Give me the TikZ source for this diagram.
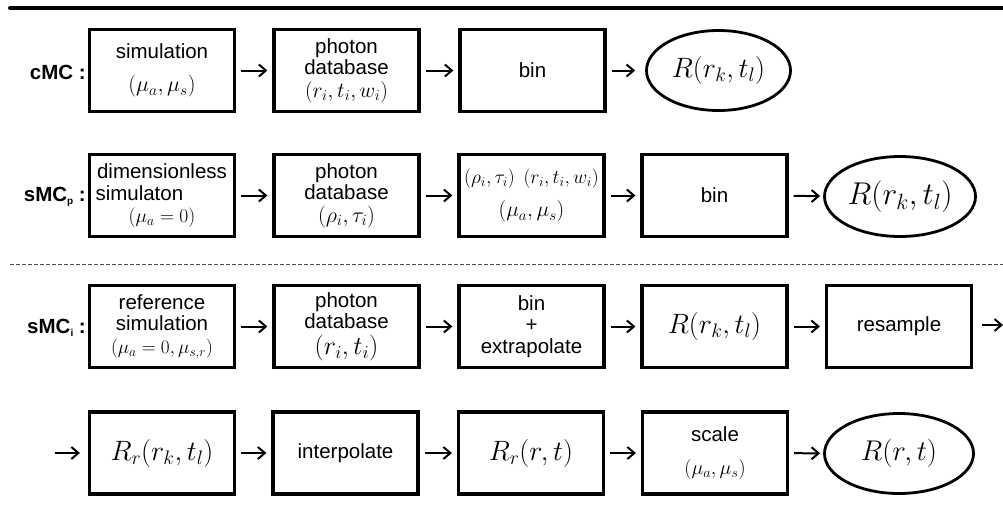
\RequirePackage{fix-cm}
\documentclass[tikz,border=0pt]{standalone}
\usepackage[no-math]{fontspec}
\setmainfont{Liberation Sans}
\usetikzlibrary{shapes.geometric,arrows.meta}
\newcommand{\mth}[2]{{\fontsize{#1}{#1}\selectfont$#2$}}
\tikzset{
 box/.style={draw, line width=3.2pt, minimum width=145pt, minimum height=82pt, inner sep=1pt, align=center, font=\fontsize{20.5}{21.5}\selectfont},
 oval/.style={draw, ellipse, line width=2.8pt, inner sep=0pt, minimum height=80pt},
 flow/.style={line width=2pt, -{Straight Barb[length=7pt,width=12pt]}, shorten <=5pt, shorten >=5pt},
 tag/.style={anchor=east, font=\bfseries\fontsize{20.5}{20.5}\selectfont, inner sep=0pt},
 rule/.style={line width=4pt, line cap=round},
 sep/.style={line width=0.8pt, dash pattern=on 4pt off 2pt, black!70}
}
\begin{document}
\begin{tikzpicture}[x=1pt,y=-1pt]
\useasboundingbox (0,0) rectangle (1003,515);
\coordinate (ruleL) at (10,8);
\coordinate (ruleR) at (1003,8);
\draw[rule] (ruleL) -- (ruleR);
\coordinate (sepL) at (10,264);
\coordinate (sepR) at (1003,264);
\draw[sep] (sepL) -- (sepR);

% row 1
\node[tag] (t1) at (86,72) {cMC :};
\node[box] (c1) at (162,70.5) {simulation\\[12pt]\mth{22}{(\mu_a,\mu_s)}};
\node[box] (c2) at (346.5,70.5) {photon\\database\\[1pt]\mth{21.5}{(r_i,t_i,w_i)}};
\node[box] (c3) at (532.5,70.5) {bin};
\node[oval, minimum width=144pt] (c4) at (718.5,70.5) {\mth{28}{R(r_k,t_l)}};
\draw[flow] (c1) -- (c2);
\draw[flow] (c2) -- (c3);
\draw[flow, shorten >=10pt] (c3) -- (c4);

% row 2
\node[tag] (t2) at (86,197) {sMC{\fontsize{10}{10}\selectfont\raisebox{-3pt}{p}} :};
\node[box] (p1) at (162,195.5) {dimensionless\\\makebox[133pt][l]{simulaton}\\[1pt]\mth{19.5}{(\mu_a=0)}};
\node[box] (p2) at (346.5,195.5) {photon\\database\\[1pt]\mth{22}{(\rho_i,\tau_i)}};
\node[box] (p3) at (531.5,195.5) {\mth{19.5}{(\rho_i,\tau_i)\;\,(r_i,t_i,w_i)}\\[12pt]\mth{21.5}{(\mu_a,\mu_s)}};
\node[box] (p4) at (714.5,195.5) {bin};
\node[oval, minimum width=151pt] (p5) at (900,196.5) {\mth{31.5}{R(r_k,t_l)}};
\draw[flow] (p1) -- (p2);
\draw[flow] (p2) -- (p3);
\draw[flow] (p3) -- (p4);
\draw[flow, shorten >=3pt] (p4) -- (p5);

% row 3
\node[tag] (t3) at (86,328) {sMC{\fontsize{10}{10}\selectfont\raisebox{-3pt}{i}} :};
\node[box] (i1) at (162,326.5) {reference\\simulation\\[1pt]\mth{19.2}{(\mu_a=0,\mu_{s,r})}};
\node[box] (i2) at (346.5,326.5) {photon\\database\\[4pt]\mth{26}{(r_i,t_i)}};
\node[box] (i3) at (531.5,326.5) {bin\\+\\extrapolate};
\node[box] (i4) at (714.5,326.5) {\mth{28}{R(r_k,t_l)}};
\node[box] (i5) at (899,326.5) {resample};
\coordinate (iend) at (1003,325);
\draw[flow] (i1) -- (i2);
\draw[flow] (i2) -- (i3);
\draw[flow] (i3) -- (i4);
\draw[flow] (i4) -- (i5);
\draw[flow, shorten >=0pt, shorten <=9pt] (i5.east |- iend) -- (iend);

% row 4
\coordinate (jstart) at (55,453);
\node[box] (j1) at (162,453) {\mth{28}{R_r(r_k,t_l)}};
\node[box] (j2) at (345.5,453) {interpolate};
\node[box] (j3) at (531,453) {\mth{28}{R_r(r,t)}};
\node[box] (j4) at (715,453) {scale\\[12pt]\mth{20}{(\mu_a,\mu_s)}};
\node[oval, minimum width=149pt] (j5) at (899,453.5) {\mth{28.5}{R(r,t)}};
\draw[flow, shorten <=0pt, shorten >=8pt] (jstart) -- (j1);
\draw[flow] (j1) -- (j2);
\draw[flow] (j2) -- (j3);
\draw[flow] (j3) -- (j4);
\draw[flow, shorten >=3pt] (j4) -- (j5);
\end{tikzpicture}
\end{document}
